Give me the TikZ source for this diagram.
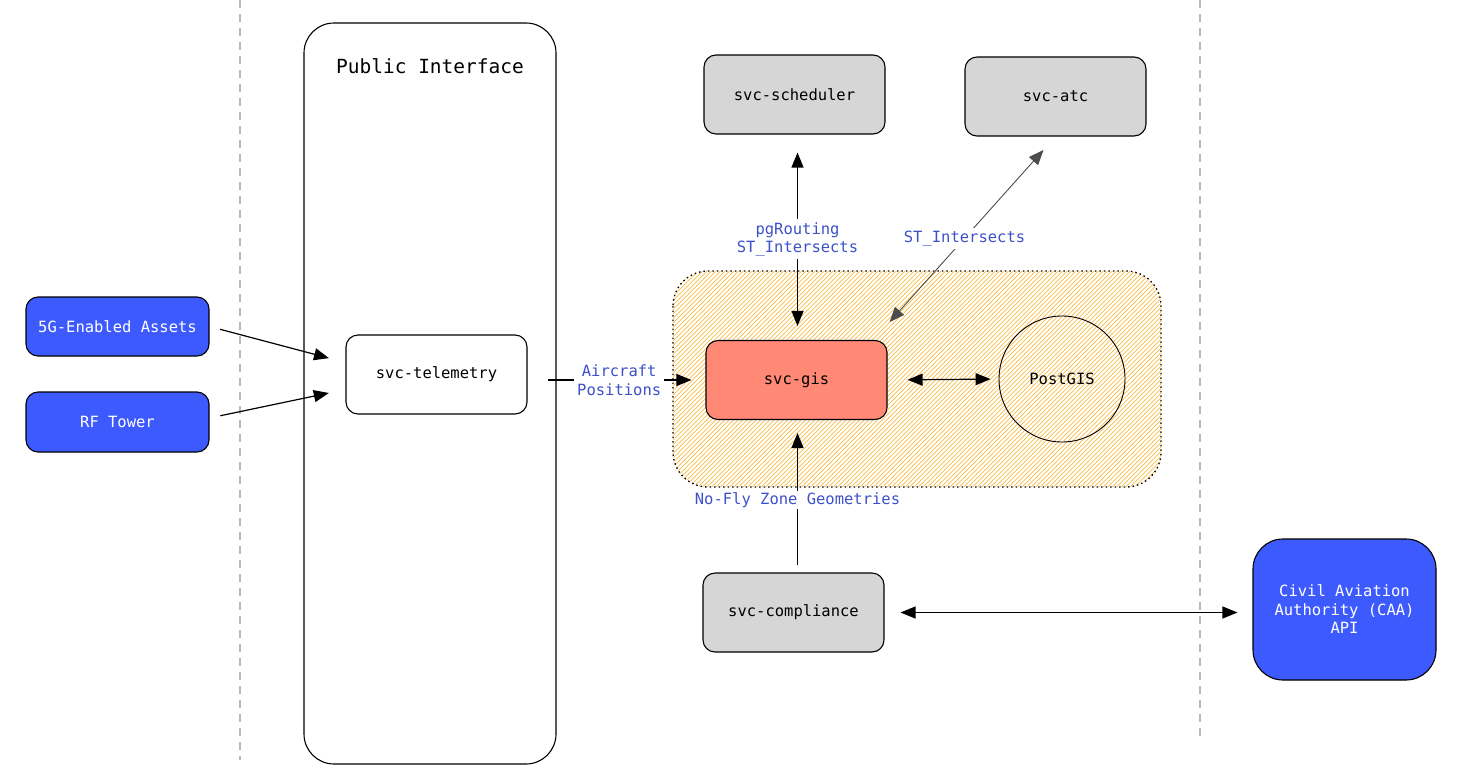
\documentclass[tikz,border=0pt]{standalone}
\usepackage{fontspec}
\setmonofont{DejaVu Sans Mono}
\usetikzlibrary{arrows.meta,calc,positioning}

\definecolor{assetblue}{RGB}{61,90,254}
\definecolor{labelblue}{RGB}{61,81,201}
\definecolor{svcgray}{RGB}{214,214,214}
\definecolor{gissalmon}{RGB}{255,137,117}
\definecolor{hatchorange}{RGB}{248,190,70}
\definecolor{zonegray}{RGB}{185,185,185}

\begin{document}
\begin{tikzpicture}[x=1pt,y=-1pt,
  font=\ttfamily\fontsize{15.5}{18.5}\selectfont,
  box/.style={draw,line width=1.1pt,rounded corners=12,minimum width=181,minimum height=79,align=center},
  assetbox/.style={box,fill=assetblue,text=white,minimum width=183,minimum height=59},
  svcbox/.style={box,fill=svcgray},
  arr/.style={line width=1.2pt,-{Triangle[length=15pt,width=12pt]}},
  biarr/.style={line width=1.2pt,{Triangle[length=15pt,width=12pt]}-{Triangle[length=15pt,width=12pt]}},
  edgelabel/.style={fill=white,text=labelblue,align=center,inner sep=3pt}]
  \useasboundingbox (0,0) rectangle (1458,779);

  % zone separators
  \draw[zonegray,line width=1.4pt,dash pattern=on 8pt off 6pt] (240,0) -- (240,760);
  \draw[zonegray,line width=1.4pt,dash pattern=on 8pt off 6pt] (1200,0) -- (1200,738);

  % hatched gis zone
  \begin{scope}
    \clip[rounded corners=35] (673,271) rectangle (1161,487);
    \foreach \x in {455,459.5,...,1165}
      \draw[hatchorange,line width=0.7pt] (\x,487) -- ++(216,-216);
  \end{scope}
  \draw[line width=1.3pt,dash pattern=on 1.5pt off 3pt,rounded corners=35] (673,271) rectangle (1161,487);

  \node[draw,line width=1.1pt,rounded corners=30,minimum width=252,minimum height=741] (public) at (430,393.5) {};
  \node[font=\ttfamily\fontsize{19.5}{22}\selectfont,below=33pt of public.north] (publictitle) {Public Interface};

  \node[assetbox] (fiveg) at (117.5,326.5) {5G-Enabled Assets};
  \node[assetbox,minimum height=60] (rftower) at (117.5,422) {RF Tower};
  \node[box,fill=white] (telemetry) at (436.5,374.5) {svc-telemetry};
  \node[svcbox] (scheduler) at (794.5,94.5) {svc-scheduler};
  \node[svcbox] (atc) at (1055.5,96.5) {svc-atc};
  \node[box,fill=gissalmon] (gis) at (796.5,380) {svc-gis};
  \node[circle,draw,line width=0.9pt,minimum size=126] (postgis) at (1062,379) {PostGIS};
  \node[svcbox] (compliance) at (793.5,612.5) {svc-compliance};
  \node[box,fill=assetblue,text=white,rounded corners=30,minimum width=183,minimum height=141] (caa) at (1344.5,609.5) {Civil Aviation\\Authority (CAA)\\API};

  % connectors
  \draw[arr,shorten <=11,shorten >=17] (fiveg.east) -- ([yshift=12]telemetry.west);
  \draw[arr,shorten <=11,shorten >=17] ([yshift=4]rftower.east) -- ([yshift=-15]telemetry.west);
  \draw[arr,shorten <=20,shorten >=14] (telemetry.east |- gis.west) -- (gis.west)
    node[edgelabel,pos=0.515] (aircraftlabel) {Aircraft\\Positions};
  \draw[biarr,shorten <=14,shorten >=18] ([xshift=1]gis.north) -- ([xshift=1]gis.north |- scheduler.south)
    node[edgelabel,pos=0.49] (routinglabel) {pgRouting\\ST\_Intersects};
  \draw[biarr,line width=0.9pt,draw=black!70,shorten <=24,shorten >=18] ([xshift=-14]gis.north east) -- (atc.south)
    node[edgelabel,midway] (intersectlabel) {ST\_Intersects};
  \draw[biarr,shorten <=20,shorten >=8] (gis.east) -- (postgis.west);
  \draw[arr,shorten <=7,shorten >=13] ([xshift=1]gis.south |- compliance.north) -- ([xshift=1]gis.south)
    node[edgelabel,inner ysep=1.5pt,pos=0.475] (noflylabel) {No-Fly Zone Geometries};
  \draw[biarr,shorten <=16,shorten >=15] (compliance.east) -- (caa.west |- compliance.east);
\end{tikzpicture}
\end{document}
